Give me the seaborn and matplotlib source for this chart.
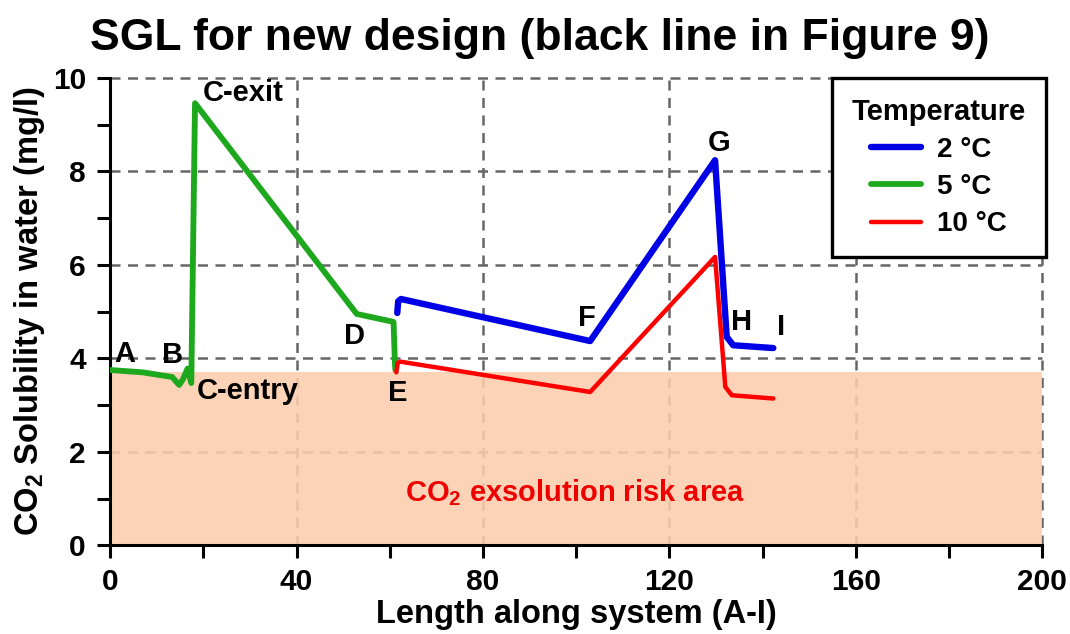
import numpy as np
import pandas as pd
import matplotlib
matplotlib.use("Agg")
import matplotlib.pyplot as plt
import seaborn as sns
from matplotlib.ticker import MultipleLocator

# ----- DATI -----
x_2c = [61.6, 61.8, 62.4, 103.0, 129.8, 132.3, 133.7, 142.3]
y_2c = [4.97, 5.22, 5.27, 4.37, 8.24, 4.46, 4.28, 4.22]

x_5c = [0.0, 7.0, 13.3, 14.8, 15.6, 16.6, 17.4, 18.2, 52.9, 60.8, 61.1, 61.2]
y_5c = [3.75, 3.70, 3.60, 3.43, 3.55, 3.78, 3.47, 9.46, 4.95, 4.78, 3.90, 3.75]

x_10c = [61.4, 61.7, 62.2, 103.0, 129.8, 132.0, 133.4, 142.3]
y_10c = [3.70, 3.90, 3.93, 3.28, 6.17, 3.39, 3.21, 3.14]

risk_limit = 3.7
risk_x = [0, 200]

point_labels = ["A", "B", "C-entry", "C-exit", "D", "E", "F", "G", "H", "I"]
label_x = [3.2, 13.3, 29.4, 28.5, 52.4, 61.8, 102.4, 130.7, 135.4, 144.0]
label_y = [4.10, 4.07, 3.30, 9.68, 4.47, 3.25, 4.86, 8.60, 4.78, 4.67]

series_names = ["2 \u00b0C", "5 \u00b0C", "10 \u00b0C"]
series_colors = ["#0000e6", "#1ea81e", "#ff0000"]
series_widths = [4.6, 4.2, 3.2]

sns.set_theme(style="ticks")
plt.rcParams["font.family"] = ["Liberation Sans", "DejaVu Sans"]
plt.rcParams["font.weight"] = "bold"
plt.rcParams["axes.labelweight"] = "bold"
plt.rcParams["text.color"] = "black"
plt.rcParams["axes.labelcolor"] = "black"
plt.rcParams["xtick.color"] = "black"
plt.rcParams["ytick.color"] = "black"
plt.rcParams["mathtext.fontset"] = "custom"
plt.rcParams["mathtext.bf"] = "Liberation Sans:bold"
plt.rcParams["mathtext.rm"] = "Liberation Sans:bold"

fig = plt.figure(figsize=(10.7, 6.34), dpi=100)
ax = fig.add_axes([0.103, 0.140, 0.871, 0.737])

# griglia tratteggiata sotto tutto
ax.set_axisbelow(True)
ax.grid(True, which="major", color="#666666", linestyle=(0, (4, 3)), linewidth=1.8)

# area di rischio
ax.fill_between(risk_x, 0, risk_limit, color="#fccdac", alpha=0.88, linewidth=0, zorder=1.5)

data = [(x_2c, y_2c), (x_5c, y_5c), (x_10c, y_10c)]
order = [1, 0, 2]  # verde, blu, rosso sopra
for i in order:
    df = pd.DataFrame({"x": data[i][0], "y": data[i][1]})
    sns.lineplot(data=df, x="x", y="y", ax=ax, sort=False, estimator=None,
                 color=series_colors[i], linewidth=series_widths[i],
                 label=series_names[i], zorder=3)

for lab, lx, ly in zip(point_labels, label_x, label_y):
    ax.text(lx, ly, lab, ha="center", va="center", fontsize=21, color="black", zorder=4)

ax.text(99.8, 1.13, "CO$_\\mathbf{2}$ exsolution risk area", ha="center", va="center",
        fontsize=21, color="#ee0000", zorder=4)

ax.set_xlim(0, 200)
ax.set_ylim(0, 10)
ax.xaxis.set_major_locator(MultipleLocator(40))
ax.xaxis.set_minor_locator(MultipleLocator(20))
ax.yaxis.set_major_locator(MultipleLocator(2))
ax.yaxis.set_minor_locator(MultipleLocator(1))
ax.tick_params(which="both", direction="out", length=9.5, width=2.2, color="black")
ax.tick_params(which="major", labelsize=21.5)
ax.tick_params(axis="x", which="major", pad=7)
ax.tick_params(axis="y", which="major", pad=8)
sns.despine(ax=ax)
for s in ["left", "bottom"]:
    ax.spines[s].set_linewidth(2.2)
    ax.spines[s].set_color("black")

# le linee di griglia ai bordi (10 e 200) devono vedersi intere
for gl in ax.get_xgridlines() + ax.get_ygridlines():
    gl.set_clip_on(False)

ax.set_xlabel("Length along system (A-I)", fontsize=23.5)
ax.xaxis.set_label_coords(0.5, -0.114)
ax.set_ylabel("CO$_\\mathbf{2}$ Solubility in water (mg/l)", fontsize=23.5, labelpad=4)

handles, labels = ax.get_legend_handles_labels()
hmap = dict(zip(labels, handles))
leg = ax.legend([hmap[n] for n in series_names], series_names, title="Temperature",
                loc="upper right", bbox_to_anchor=(1.004, 1.0), borderaxespad=0,
                fontsize=20, title_fontproperties={"weight": "bold", "size": 21},
                frameon=True, fancybox=False, framealpha=1, edgecolor="black",
                handlelength=1.8, borderpad=0.72, labelspacing=0.4, handletextpad=0.6)
leg.get_frame().set_linewidth(2.4)
leg.set_zorder(5)

fig.text(0.504, 0.94, "SGL for new design (black line in Figure 9)", ha="center", va="center",
         fontsize=32, fontweight="bold")

fig.savefig("out.png", dpi=100)
